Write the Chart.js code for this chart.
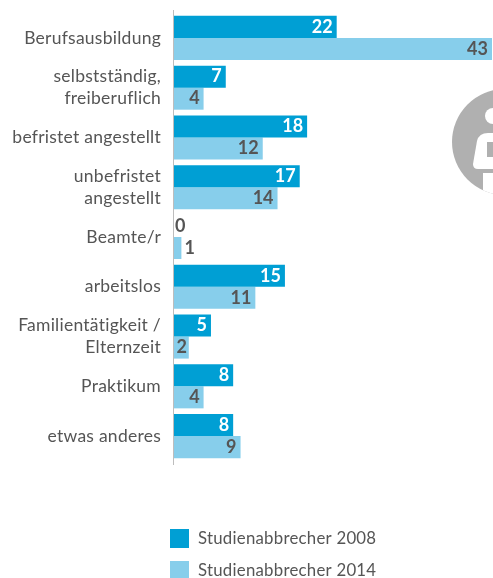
<!DOCTYPE html>
<html><head><meta charset="utf-8">
<style>html,body{margin:0;padding:0;background:#fff;overflow:hidden}#w{position:relative;width:493px;height:578px}canvas{position:absolute;left:0;top:0}
#icon{position:absolute;left:0;top:0}</style>
<script src="https://cdn.jsdelivr.net/npm/chart.js@4"></script>
</head><body><div id="w">
<svg id="icon" width="493" height="578"><defs><clipPath id="cc"><circle cx="505" cy="142" r="53"/></clipPath></defs><circle cx="505" cy="142" r="53" fill="#b0b0b0"/><circle cx="493" cy="116" r="8" fill="#fff"/><path d="M473 164 L477 141 Q479 133 488 133 L520 133 L520 169 L478 169 Q473 169 473 164Z" fill="#fff"/><rect x="487" y="142" width="14" height="15" fill="#b0b0b0"/><rect x="483" y="173" width="30" height="30" fill="#fff" clip-path="url(#cc)"/></svg>
<canvas id="c" width="493" height="578"></canvas></div>
<script>
const categories=["Berufsausbildung",["selbstständig,","freiberuflich"],"befristet angestellt",["unbefristet","angestellt"],"Beamte/r","arbeitslos",["Familientätigkeit /","Elternzeit"],"Praktikum","etwas anderes"];
const series2008=[22,7,18,17,0,15,5,8,8];
const series2014=[43,4,12,14,1,11,2,4,9];
const seriesNames=["Studienabbrecher 2008","Studienabbrecher 2014"];
const colors=["#009fd4","#87ceeb"];
const FONT='Lato';
const decor={id:'decor',
beforeDraw(chart){chart.ctx.letterSpacing='0.25px';},
afterDatasetsDraw(chart){
 const ctx=chart.ctx,y=chart.scales.y;
 ctx.save();
 ctx.letterSpacing='0px';
 ctx.strokeStyle='#bdbdbd';ctx.lineWidth=1;ctx.beginPath();ctx.moveTo(173.5,y.top-3);ctx.lineTo(173.5,y.bottom+4);ctx.stroke();
 ctx.font='bold 18px '+FONT;ctx.textBaseline='middle';
 chart.data.datasets.forEach((ds,i)=>{
  chart.getDatasetMeta(i).data.forEach((b,j)=>{
   const v=ds.data[j];
   ctx.fillStyle=i===0?'#fff':'#555';
   if(v===0){ctx.fillStyle='#555';ctx.textAlign='left';ctx.fillText(v,b.x+1,b.y);}
   else if(v<=1){ctx.textAlign='left';ctx.fillText(v,b.x+3,b.y);}
   else if(v<=2){ctx.textAlign='center';ctx.fillText(v,b.x-7,b.y);}
   else{ctx.textAlign='right';ctx.fillText(v,b.x-4,b.y);}
  });
 });
 ctx.letterSpacing='0.25px';
 ctx.font='16.8px '+FONT;ctx.textAlign='left';
 chart.data.datasets.forEach((ds,i)=>{
  const yy=529+i*32;
  ctx.fillStyle=ds.backgroundColor;ctx.fillRect(170,yy,19,19);
  ctx.fillStyle='#555';ctx.fillText(ds.label,198,yy+10);
 });
 ctx.restore();
}};
new Chart(document.getElementById('c'),{type:'bar',plugins:[decor],
data:{labels:categories,datasets:[
 {label:seriesNames[0],data:series2008,backgroundColor:colors[0]},
 {label:seriesNames[1],data:series2014,backgroundColor:colors[1]}]},
options:{indexAxis:'y',responsive:false,animation:false,
 layout:{padding:{top:13,right:1,bottom:117,left:0}},
 datasets:{bar:{categoryPercentage:0.885,barPercentage:1}},
 plugins:{legend:{display:false},tooltip:{enabled:false}},
 scales:{
  x:{min:0,max:43,display:false,grid:{display:false}},
  y:{grid:{display:false},border:{display:false},afterFit(s){s.width=174;s.paddingTop=0;s.paddingBottom=0;},
     ticks:{color:'#555',padding:5,autoSkip:false,font:{family:FONT,size:17.5,lineHeight:1.27}}}
 }}});
</script></body></html>
